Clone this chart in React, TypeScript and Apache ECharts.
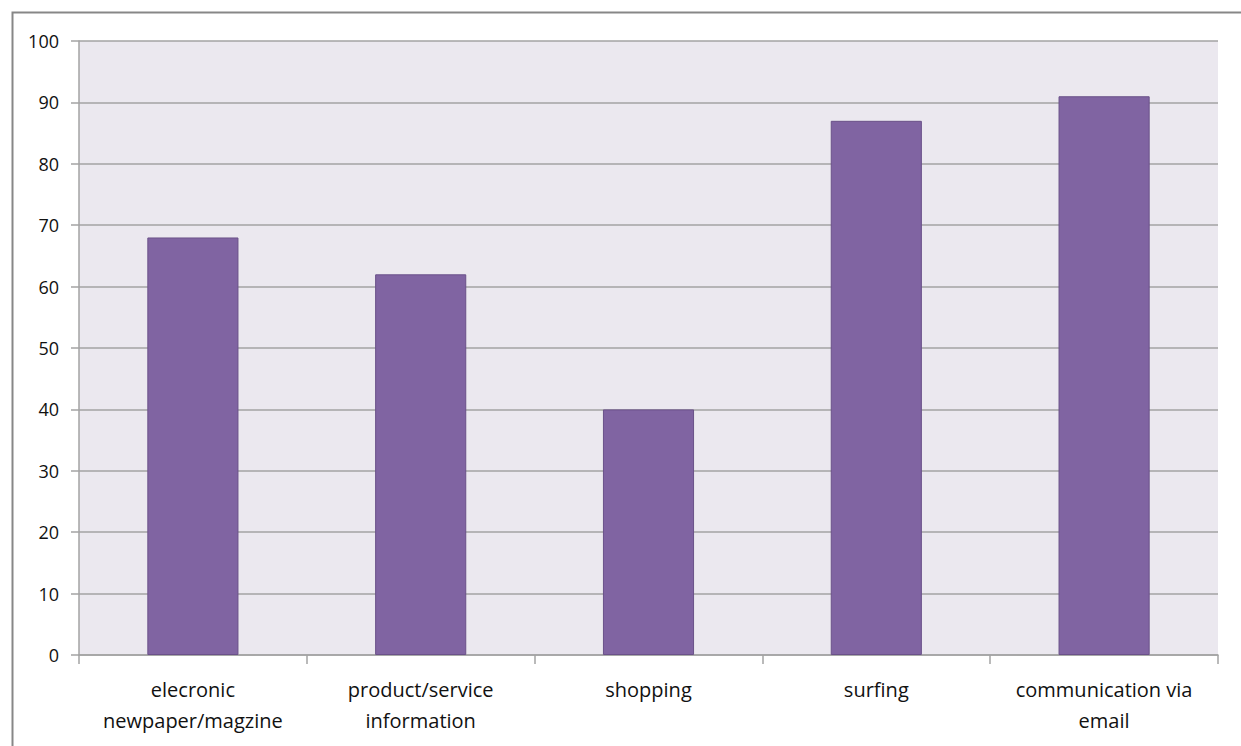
import React, { useEffect, useRef } from "react";
import * as echarts from "echarts";

// Activity categories along the x axis (two-line labels)
const categories: string[] = [
  "elecronic\nnewpaper/magzine",
  "product/service\ninformation",
  "shopping",
  "surfing",
  "communication via\nemail",
];

// Percentage of users per activity
const values: number[] = [68, 62, 40, 87, 91];

// Value axis range
const yMin = 0;
const yMax = 100;
const yStep = 10;

export default function App() {
  const ref = useRef<HTMLDivElement>(null);

  useEffect(() => {
    if (!ref.current) return;
    const chart = echarts.init(ref.current, undefined, { renderer: "svg" });
    const gridColor = "#A3A3A3";
    chart.setOption({
      animation: false,
      backgroundColor: "#FFFFFF",
      graphic: [
        {
          type: "rect",
          left: 10,
          top: 10,
          shape: { width: 1400, height: 900 },
          style: { fill: "none", stroke: "#878787", lineWidth: 2 },
          silent: true,
          z: 100,
        },
      ],
      grid: {
        left: 79,
        right: 23,
        top: 41,
        bottom: 91,
        show: true,
        backgroundColor: "#EBE8EF",
        borderWidth: 0,
      },
      xAxis: {
        type: "category",
        data: categories,
        axisLine: { show: true, lineStyle: { color: gridColor, width: 1.5 } },
        axisTick: {
          show: true,
          alignWithLabel: false,
          length: 9,
          lineStyle: { color: gridColor, width: 1.5 },
        },
        axisLabel: {
          interval: 0,
          margin: 19,
          fontFamily: "Open Sans",
          fontSize: 20,
          lineHeight: 31,
          color: "#111111",
        },
      },
      yAxis: {
        type: "value",
        min: yMin,
        max: yMax,
        interval: yStep,
        axisLine: { show: true, lineStyle: { color: gridColor, width: 1.5 } },
        axisTick: { show: true, length: 8, lineStyle: { color: gridColor, width: 1.5 } },
        splitLine: { show: true, lineStyle: { color: gridColor, width: 1.5 } },
        axisLabel: {
          margin: 20,
          fontFamily: "Open Sans",
          fontSize: 18,
          color: "#111111",
        },
      },
      series: [
        {
          type: "bar",
          data: values,
          barCategoryGap: "60%",
          itemStyle: {
            color: "#8064A2",
            borderColor: "#6A5189",
            borderWidth: 1,
          },
        },
      ],
    });
    return () => chart.dispose();
  }, []);

  return (
    <div
      ref={ref}
      style={{ position: "absolute", left: 0, top: 0, width: 1241, height: 746 }}
    />
  );
}
